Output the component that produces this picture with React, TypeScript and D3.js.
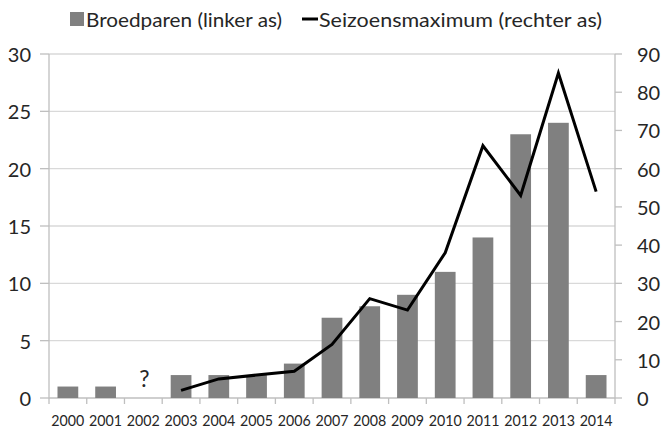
import React from "react";
import * as d3 from "d3";

const years = ["2000","2001","2002","2003","2004","2005","2006","2007","2008","2009","2010","2011","2012","2013","2014"];
const broedparen: (number | null)[] = [1, 1, null, 2, 2, 2, 3, 7, 8, 9, 11, 14, 23, 24, 2];
const seizoensmax: (number | null)[] = [null, null, null, 2, 5, 6, 7, 14, 26, 23, 38, 66, 53, 85, 54];
const leftTicks = [0, 5, 10, 15, 20, 25, 30];
const rightTicks = [0, 10, 20, 30, 40, 50, 60, 70, 80, 90];
const legendBars = "Broedparen (linker as)";
const legendLine = "Seizoensmaximum (rechter as)";
const unknownMark = "?";

const W = 661, H = 427;
const FONT = "Lato, 'Open Sans', sans-serif";

export default function App() {
  const left = 49, right = 615, top = 54, bottom = 398;
  const x = d3.scaleBand<string>().domain(years).range([left, right]).paddingInner(0.45).paddingOuter(0.225);
  const xb = d3.scaleBand<string>().domain(years).range([left, right]);
  const yL = d3.scaleLinear().domain([0, 30]).range([bottom, top]);
  const yR = d3.scaleLinear().domain([0, 90]).range([bottom, top]);
  const lineData = years.map((yv, i) => ({ yv, v: seizoensmax[i] })).filter(d => d.v !== null) as { yv: string; v: number }[];
  const line = d3.line<{ yv: string; v: number }>()
    .x(d => (xb(d.yv) as number) + xb.bandwidth() / 2)
    .y(d => yR(d.v));
  const grid = "#d9d9d9";
  const axis = "#bfbfbf";
  const textCol = "#262626";
  return (
    <svg width={W} height={H} style={{ position: "absolute", left: 0, top: 0, background: "#fff" }} fontFamily={FONT}>
      <rect x={0} y={0} width={W} height={H} fill="#fff" />
      {leftTicks.filter(t => t > 0).map(t => (
        <line key={"g" + t} x1={left} x2={right} y1={yL(t)} y2={yL(t)} stroke={grid} strokeWidth={1.3} />
      ))}
      <line x1={left} x2={left} y1={top} y2={bottom} stroke={axis} strokeWidth={1.3} />
      {leftTicks.map(t => (
        <g key={"lt" + t}>
          <line x1={left - 9} x2={left} y1={yL(t)} y2={yL(t)} stroke={axis} strokeWidth={1.3} />
          <text x={31} y={yL(t)} textAnchor="end" dominantBaseline="central" fontSize={20} fill={textCol}>{t}</text>
        </g>
      ))}
      <line x1={right} x2={right} y1={top} y2={bottom} stroke={axis} strokeWidth={1.3} />
      {rightTicks.map(t => (
        <g key={"rt" + t}>
          <line x1={right} x2={right + 7} y1={yR(t)} y2={yR(t)} stroke={axis} strokeWidth={1.3} />
          <text x={637} y={yR(t)} textAnchor="start" dominantBaseline="central" fontSize={20} fill={textCol}>{t}</text>
        </g>
      ))}
      <line x1={left} x2={right} y1={bottom} y2={bottom} stroke={axis} strokeWidth={1.3} />
      {years.map((yv, i) => (
        <line key={"bt" + i} x1={xb(yv) as number} x2={xb(yv) as number} y1={bottom} y2={bottom + 6} stroke={axis} strokeWidth={1.3} />
      ))}
      <line x1={right} x2={right} y1={bottom} y2={bottom + 6} stroke={axis} strokeWidth={1.3} />
      {years.map(yv => (
        <text key={"yl" + yv} x={(xb(yv) as number) + xb.bandwidth() / 2} y={419} textAnchor="middle" dominantBaseline="central" fontSize={16} fill={textCol} textLength={33} lengthAdjust="spacingAndGlyphs">{yv}</text>
      ))}
      {years.map((yv, i) => {
        const v = broedparen[i];
        if (v === null) return null;
        return <rect key={"b" + yv} x={x(yv) as number} y={yL(v)} width={x.bandwidth()} height={bottom - yL(v)} fill="#808080" />;
      })}
      <text x={(xb("2002") as number) + xb.bandwidth() / 2 + 1} y={378} textAnchor="middle" dominantBaseline="central" fontSize={23} fill={textCol}>{unknownMark}</text>
      <path d={line(lineData) || ""} fill="none" stroke="#000" strokeWidth={3} strokeLinejoin="miter" />
      <rect x={70} y={12} width={14} height={14} fill="#808080" />
      <text x={86} y={19} dominantBaseline="central" fontSize={20} fill={textCol} textLength={196} lengthAdjust="spacingAndGlyphs">{legendBars}</text>
      <line x1={302} x2={318} y1={19} y2={19} stroke="#000" strokeWidth={3} />
      <text x={319} y={19} dominantBaseline="central" fontSize={20} fill={textCol} textLength={283} lengthAdjust="spacingAndGlyphs">{legendLine}</text>
    </svg>
  );
}
